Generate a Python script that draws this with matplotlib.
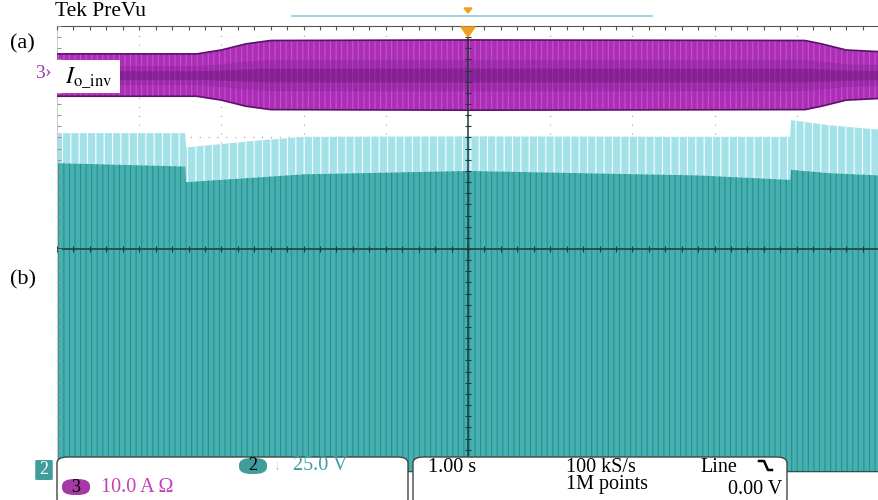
import numpy as np
import matplotlib.pyplot as plt
from matplotlib.patches import FancyBboxPatch, Rectangle, Polygon

plt.rcParams['font.family'] = ['Liberation Serif', 'DejaVu Serif']
plt.rcParams['mathtext.fontset'] = 'stix'
plt.rcParams['hatch.linewidth'] = 0.8

# ── data read from the screen (time in s, 1.00 s/div, trigger at 0) ──
# channel 3: inverter output current envelope, 10.0 A/div
t_cur = [-5.0, -3.3, -3.0, -2.7, -2.4, 0.0, 4.1, 4.3, 4.6, 5.0]
i_amp = [3.8, 3.8, 4.5, 5.6, 6.2, 6.3, 6.2, 5.6, 4.5, 4.2]
i_pos_div = 3.12          # trace position on screen (div)

# channel 2: voltage, 25.0 V/div, ground at bottom line
t_volt = [-5.0, -3.44, -3.43, -2.6, -2.0, 0.0, 2.8, 3.92, 3.93, 4.4, 5.0]
v_peak = [152, 152, 145.5, 148.5, 150.3, 150.5, 150.3, 150.3, 157.8, 155.5, 153.5]
v_dense = [138.5, 137, 130, 132, 133.5, 135, 133, 131, 135.5, 134, 133]
v_gnd_div = -4.0

C_MAG = '#ac2db6'
C_MAG_D = '#5a1268'
C_CYAN = '#a4e2ea'
C_TEAL = '#45b0af'
C_TEAL_D = '#2a8e8f'

W, H = 879, 500


def px(x, y):
    return x / W, 1 - y / H


fig = plt.figure(figsize=(8.79, 5.0), dpi=100)
ax = fig.add_axes([57 / W, 28 / H, 822 / W, 446 / H])
ax.set_xlim(-5, 5)
ax.set_ylim(-4, 4)
ax.set_xticks([])
ax.set_yticks([])
for s in ax.spines.values():
    s.set_color('#cfcfcf')
    s.set_linewidth(0.8)
ax.spines['top'].set_color('#555555')

# graticule
for gx in range(-4, 5):
    ax.axvline(gx, color='#a0a0a0', lw=0.8, ls=(0, (1, 7)), zorder=0)
for gy in range(-3, 4):
    ax.axhline(gy, color='#a0a0a0', lw=0.8, ls=(0, (1, 7)), zorder=0)

# channel 2 voltage
t_volt = np.array(t_volt)
vp = v_gnd_div + np.array(v_peak) / 25.0
vd = v_gnd_div + np.array(v_dense) / 25.0
ax.fill_between(t_volt, vd, vp, facecolor=C_CYAN, edgecolor='white',
                hatch='||', linewidth=0, zorder=1)
ax.fill_between(t_volt, v_gnd_div, vd, facecolor=C_TEAL, edgecolor=C_TEAL_D,
                hatch='|||', linewidth=0, zorder=1)
ax.axhline(v_gnd_div, color='#1b3f40', lw=2, zorder=2)

# channel 3 current
t_cur = np.array(t_cur)
ia = np.array(i_amp) / 10.0
ax.fill_between(t_cur, i_pos_div - ia, i_pos_div + ia, facecolor=C_MAG,
                edgecolor='#c254ca', hatch='|||', linewidth=0, zorder=3)
ax.fill_between(t_cur, i_pos_div - ia * 0.45, i_pos_div + ia * 0.45,
                color='#7c1d8c', alpha=0.3, linewidth=0, zorder=3)
ax.fill_between(t_cur, i_pos_div - ia * 0.2, i_pos_div + ia * 0.2,
                color='#5e1270', alpha=0.35, linewidth=0, zorder=3)
ax.plot(t_cur, i_pos_div + ia, color=C_MAG_D, lw=1.2, zorder=4)
ax.plot(t_cur, i_pos_div - ia, color=C_MAG_D, lw=1.2, zorder=4)

# center cross with minor ticks
ax.axhline(0, color='#1f3a3c', lw=1.1, zorder=5)
ax.axvline(0, color='#1f3a3c', lw=1.1, zorder=5)
minor_x = np.arange(-5, 5.01, 0.2)
minor_y = np.arange(-4, 4.01, 0.2)
ax.vlines(minor_x, -0.05, 0.05, color='#1f3a3c', lw=0.8, zorder=5)
ax.hlines(minor_y, -0.04, 0.04, color='#1f3a3c', lw=0.8, zorder=5)
ax.vlines(minor_x, 3.93, 4.0, color='#555555', lw=0.8, zorder=5)
ax.hlines(minor_y, -5.0, -4.95, color='#999999', lw=0.8, zorder=5)

# trace label box
fig.patches.append(Rectangle(px(57, 93), 63 / W, 33 / H, transform=fig.transFigure,
                             facecolor='white', edgecolor='none', zorder=6))
fig.text(*px(65, 78), r'$I_{\rm o\_inv}$', fontsize=17, va='center', ha='left', zorder=7)

# header
fig.text(*px(55, 12), 'Tek PreVu', fontsize=15.5, va='center', ha='left')
fig.text(*px(10, 44), '(a)', fontsize=16, va='center', ha='left')
fig.text(*px(10, 280), '(b)', fontsize=16, va='center', ha='left')
fig.lines.append(plt.Line2D([292 / W, 652 / W], [1 - 16 / H] * 2, transform=fig.transFigure,
                            color='#8fc9d9', lw=1.2))
fig.patches.append(Polygon([px(464, 8), px(472, 8), px(468, 13)], closed=True,
                           transform=fig.transFigure, color='#f0a020'))
fig.patches.append(Polygon([px(461, 27), px(475, 27), px(468, 37)], closed=True,
                           transform=fig.transFigure, color='#f0a020', zorder=8))

# channel markers on the left
fig.text(*px(35, 73), '3', fontsize=14, color='#9c3ab0', va='center', ha='left')
fig.text(*px(45, 73), '\u203a', fontsize=14, color='#9c3ab0', va='center', ha='left')
fig.patches.append(FancyBboxPatch(px(37, 479), 14 / W, 18 / H, boxstyle='round,pad=0.002',
                                  transform=fig.transFigure, facecolor='#3f9e9c',
                                  edgecolor='none', zorder=9))
fig.text(*px(44, 470), '2', fontsize=13, color='white', va='center', ha='center', zorder=10)

# bottom readout boxes
for x0, x1 in [(57, 408), (413, 787)]:
    fig.patches.append(FancyBboxPatch(px(x0, 505), (x1 - x0) / W, 48 / H,
                                      boxstyle='round,pad=0,rounding_size=0.012',
                                      transform=fig.transFigure, facecolor='white',
                                      edgecolor='#444444', lw=1.0, zorder=9))
fig.patches.append(FancyBboxPatch(px(62, 495), 28 / W, 16 / H,
                                  boxstyle='round,pad=0,rounding_size=0.014',
                                  transform=fig.transFigure, facecolor='#a53aa6',
                                  edgecolor='none', zorder=10))
fig.text(*px(76, 487), '3', fontsize=13, color='black', va='center', ha='center', zorder=11)
fig.text(*px(101, 487), '10.0 A \u03a9', fontsize=14.5, color='#c13fb8', va='center',
         ha='left', zorder=11)
fig.patches.append(FancyBboxPatch(px(239, 474), 28 / W, 16 / H,
                                  boxstyle='round,pad=0,rounding_size=0.014',
                                  transform=fig.transFigure, facecolor='#3f9e9c',
                                  edgecolor='none', zorder=10))
fig.text(*px(253, 466), '2', fontsize=13, color='black', va='center', ha='center', zorder=11)
fig.text(*px(277, 466), '\u2193', fontsize=10, color='#b5dcdc', va='center',
         ha='center', zorder=11)
fig.text(*px(293, 466), '25.0 V', fontsize=14.5, color='#3aa0a0', va='center',
         ha='left', zorder=11)
fig.text(*px(428, 467), '1.00 s', fontsize=14.5, va='center', ha='left', zorder=11)
fig.text(*px(566, 467), '100 kS/s', fontsize=14.5, va='center', ha='left', zorder=11)
fig.text(*px(566, 485), '1M points', fontsize=14.5, va='center', ha='left', zorder=11)
fig.text(*px(700, 467), 'Line', fontsize=14.5, va='center', ha='left', zorder=11)
# falling-edge trigger glyph
fig.lines.append(plt.Line2D([759 / W, 764 / W, 768 / W, 772 / W],
                            [1 - 461 / H, 1 - 461 / H, 1 - 470 / H, 1 - 470 / H],
                            transform=fig.transFigure, color='black', lw=1.8, zorder=11))
fig.text(*px(782, 489), '0.00 V', fontsize=14.5, va='center', ha='right', zorder=11)

fig.savefig('out.png', dpi=100)
